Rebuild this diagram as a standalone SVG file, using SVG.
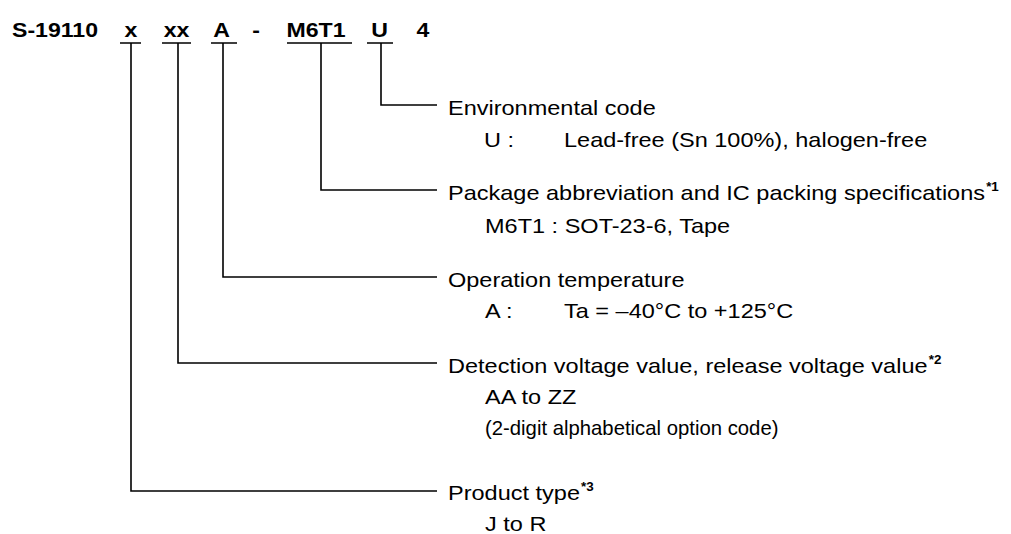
<svg xmlns="http://www.w3.org/2000/svg" width="1011" height="534" viewBox="0 0 1011 534">
  <style>
    .t { font-family: "Liberation Sans", Arial, sans-serif; font-size: 21px; fill: #000; }
    .b { font-weight: bold; }
    .sup { font-size: 12px; font-weight: bold; }
    .ln { stroke: #000; stroke-width: 1.6; fill: none; }
  </style>
  <rect width="1011" height="534" fill="#fff"/>

  <g id="connectors">
    <path class="ln" d="M120,43 H141 M162,43 H191 M211,43 H237 M287,43 H352 M367,43 H393"/>
    <path class="ln" d="M131,43 V491 H437"/>
    <path class="ln" d="M178,43 V363 H437"/>
    <path class="ln" d="M223,43 V277 H437"/>
    <path class="ln" d="M321,43 V190 H437"/>
    <path class="ln" d="M381,43 V105 H437"/>
  </g>

  <g id="part-number">
    <text class="t b" transform="matrix(1.1 0 0 1 12 36.5)">S-19110</text>
    <text class="t b" text-anchor="middle" transform="matrix(1.1 0 0 1 131 36.5)">x</text>
    <text class="t b" text-anchor="middle" transform="matrix(1.1 0 0 1 176.5 36.5)">xx</text>
    <text class="t b" text-anchor="middle" transform="matrix(1.1 0 0 1 221.5 36.5)">A</text>
    <text class="t b" text-anchor="middle" transform="matrix(1.1 0 0 1 256 36.5)">-</text>
    <text class="t b" text-anchor="middle" transform="matrix(1.1 0 0 1 316 36.5)">M6T1</text>
    <text class="t b" text-anchor="middle" transform="matrix(1.1 0 0 1 379.5 36.5)">U</text>
    <text class="t b" text-anchor="middle" transform="matrix(1.1 0 0 1 423 36.5)">4</text>
  </g>

  <g id="environmental-code">
    <text class="t" transform="matrix(1.12 0 0 1 448 115)">Environmental code</text>
    <text class="t" transform="matrix(1.12 0 0 1 484 147)">U :</text>
    <text class="t" transform="matrix(1.12 0 0 1 564 147)">Lead-free (Sn 100%), halogen-free</text>
  </g>

  <g id="package">
    <text class="t" transform="matrix(1.12 0 0 1 448 200)">Package abbreviation and IC packing specifications<tspan class="sup" dx="1" dy="-9">*1</tspan></text>
    <text class="t" transform="matrix(1.12 0 0 1 485 233)">M6T1 : SOT-23-6, Tape</text>
  </g>

  <g id="operation-temperature">
    <text class="t" transform="matrix(1.12 0 0 1 448 287)">Operation temperature</text>
    <text class="t" transform="matrix(1.12 0 0 1 485 318)">A :</text>
    <text class="t" transform="matrix(1.12 0 0 1 564 318)">Ta = –40°C to +125°C</text>
  </g>

  <g id="detection-voltage">
    <text class="t" transform="matrix(1.12 0 0 1 448 372.5)">Detection voltage value, release voltage value<tspan class="sup" dx="1" dy="-9">*2</tspan></text>
    <text class="t" transform="matrix(1.12 0 0 1 485 404)">AA to ZZ</text>
    <text class="t" transform="matrix(1.12 0 0 1 485 434.5)" textLength="262" lengthAdjust="spacingAndGlyphs">(2-digit alphabetical option code)</text>
  </g>

  <g id="product-type">
    <text class="t" transform="matrix(1.12 0 0 1 448 500)">Product type<tspan class="sup" dx="1" dy="-9">*3</tspan></text>
    <text class="t" transform="matrix(1.12 0 0 1 485 531)">J to R</text>
  </g>
</svg>
